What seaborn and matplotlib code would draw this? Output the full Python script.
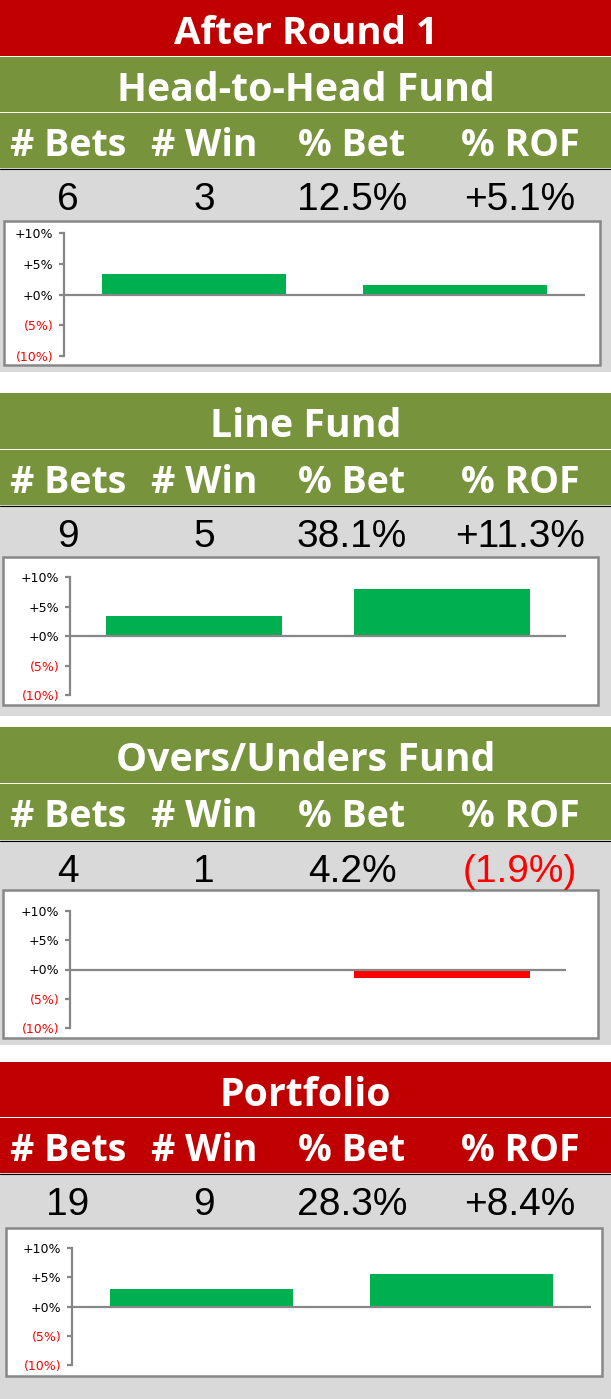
# === IMPORTS ===
import matplotlib
matplotlib.use("Agg")
import matplotlib.pyplot as plt
from matplotlib.patches import Rectangle
import seaborn as sns

# === DATA ===
report_title = "After Round 1"
fund_names = ["Head-to-Head Fund", "Line Fund", "Overs/Unders Fund", "Portfolio"]
column_labels = ["# Bets", "# Win", "% Bet", "% ROF"]
num_bets = [6, 9, 4, 19]
num_wins = [3, 5, 1, 9]
pct_bet = [12.5, 38.1, 4.2, 28.3]
pct_rof = [5.1, 11.3, -1.9, 8.4]

bar_categories = ["Round", "Season"]
h2h_bars = [3.4, 1.6]
line_bars = [3.4, 7.9]
ou_bars = [-0.2, -1.5]
portfolio_bars = [3.0, 5.5]

y_ticks = [10, 5, 0, -5, -10]

# === SETTINGS ===
sns.set_style("white")
plt.rcParams["font.family"] = ["DejaVu Sans"]

RED = "#C00000"
GREEN = "#77933C"
GREY_BG = "#D9D9D9"
AXIS_GREY = "#878787"
BAR_GREEN = "#00B050"
BAR_RED = "#FF0000"

W, H = 611, 1399
fig = plt.figure(figsize=(W / 100, H / 100), dpi=100)
fig.patch.set_facecolor("white")

bg = fig.add_axes([0, 0, 1, 1])
bg.set_xlim(0, W)
bg.set_ylim(H, 0)
bg.axis("off")

col_x = [68, 204, 352, 520]
band_font = dict(family="Open Sans", weight="bold", color="white")
num_font = dict(family="Liberation Sans", fontsize=28)

# layout of each block in pixels: title top, header top, numbers top, grey bottom,
# white box (x0, y0, x1, y1), plot area (x0, x1, y at +10%, y at -10%)
layout = [
    dict(title=57, header=113, numbers=169, grey_end=372, box=(4, 221, 600, 365), plot=(64, 585, 233, 356)),
    dict(title=393, header=450, numbers=506, grey_end=716, box=(3, 557, 598, 705), plot=(70, 566, 577, 695)),
    dict(title=727, header=784, numbers=841, grey_end=1045, box=(3, 890, 598, 1038), plot=(70, 566, 911, 1028)),
    dict(title=1062, header=1118, numbers=1174, grey_end=1399, box=(6, 1228, 602, 1376), plot=(72, 591, 1248, 1365)),
]
band_colors = [GREEN, GREEN, GREEN, RED]
all_bars = [h2h_bars, line_bars, ou_bars, portfolio_bars]


def signed_pct(v, digits):
    if v < 0:
        return f"({abs(v):.{digits}f}%)"
    return f"+{v:.{digits}f}%"


# === TOP BANNER ===
bg.add_patch(Rectangle((0, 0), W, 56, color=RED, lw=0))
bg.text(W / 2, 44, report_title, ha="center", va="baseline", fontsize=27.6, **band_font)

# === FUND BLOCKS ===
for i, lay in enumerate(layout):
    c = band_colors[i]
    t, hd, nm = lay["title"], lay["header"], lay["numbers"]
    bg.add_patch(Rectangle((0, t), W, hd - t - 1, color=c, lw=0))
    bg.add_patch(Rectangle((0, hd), W, nm - hd - 1, color=c, lw=0))
    bg.add_patch(Rectangle((0, nm - 1), W, lay["grey_end"] - nm + 1, color=GREY_BG, lw=0))
    bg.plot([0, W], [nm - 0.5, nm - 0.5], color="black", lw=0.8)

    bg.text(W / 2, t + 44, fund_names[i], ha="center", va="baseline", fontsize=28.3, **band_font)
    for x, lab in zip(col_x, column_labels):
        bg.text(x, hd + 43, lab, ha="center", va="baseline", fontsize=27, **band_font)

    rof_color = BAR_RED if pct_rof[i] < 0 else "black"
    values = [str(num_bets[i]), str(num_wins[i]), f"{pct_bet[i]:.1f}%", signed_pct(pct_rof[i], 1)]
    colors = ["black", "black", "black", rof_color]
    for x, v, col in zip(col_x, values, colors):
        bg.text(x, nm + 41, v, ha="center", va="baseline", color=col, **num_font)

    x0, y0, x1, y1 = lay["box"]
    bg.add_patch(Rectangle((x0, y0), x1 - x0, y1 - y0, facecolor="white",
                           edgecolor=AXIS_GREY, lw=1.8))

    # chart
    px0, px1, ptop, pbot = lay["plot"]
    ax = fig.add_axes([px0 / W, 1 - pbot / H, (px1 - px0) / W, (pbot - ptop) / H])
    ax.set_facecolor("none")
    vals = all_bars[i]
    pal = [BAR_GREEN if v >= 0 else BAR_RED for v in vals]
    sns.barplot(x=bar_categories, y=vals, hue=bar_categories, palette=pal,
                saturation=1, width=0.706, linewidth=0, legend=False, ax=ax)
    ax.set_xlim(-0.5, 1.5)
    ax.set_ylim(-10, 10)
    ax.axhline(0, color=AXIS_GREY, lw=1.6, zorder=1)
    for side in ["top", "right", "bottom"]:
        ax.spines[side].set_visible(False)
    ax.spines["left"].set_color(AXIS_GREY)
    ax.spines["left"].set_linewidth(1.6)
    ax.set_xticks([])
    ax.set_yticks(y_ticks)
    ax.set_yticklabels([signed_pct(v, 0) for v in y_ticks])
    ax.tick_params(axis="y", direction="out", length=3.6, width=1.6,
                   color=AXIS_GREY, pad=4, labelsize=9, left=True)
    for lab, v in zip(ax.get_yticklabels(), y_ticks):
        lab.set_color(BAR_RED if v < 0 else "black")
    ax.set_xlabel("")
    ax.set_ylabel("")

plt.savefig("out.png", dpi=100)
plt.close()
